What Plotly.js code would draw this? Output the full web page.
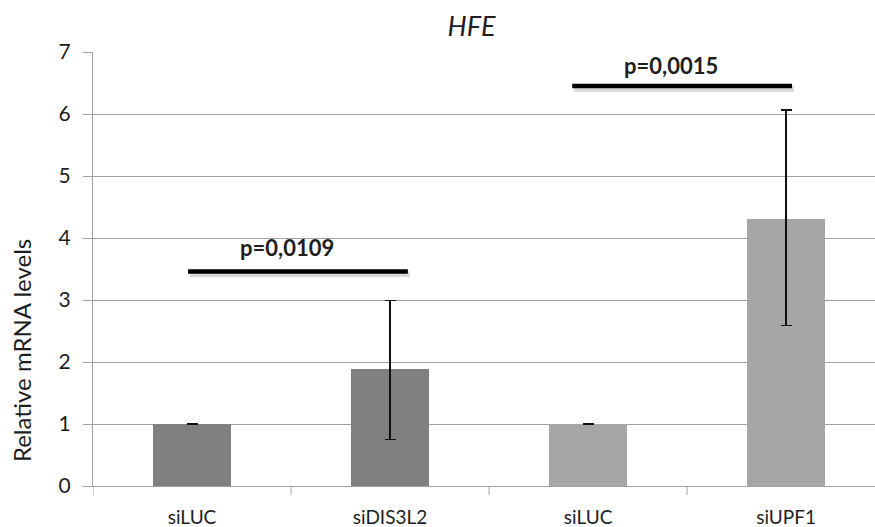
<!DOCTYPE html>
<html>
<head>
<meta charset="utf-8">
<script src="https://cdn.plot.ly/plotly-3.0.1.min.js"></script>
<style>html,body{margin:0;padding:0;background:#fff;}#chart{width:875px;height:527px;}</style>
</head>
<body>
<div id="chart"></div>
<script>
// ---- data ----
var categories = ["siLUC", "siDIS3L2", "siLUC", "siUPF1"];
var values = [1.0, 1.88, 1.0, 4.31];
var errUp = [0.005, 1.11, 0.005, 1.755];
var errDown = [0.005, 1.13, 0.005, 1.725];
var barColors = ["#808080", "#808080", "#A6A6A6", "#A6A6A6"];
var yTicks = [0, 1, 2, 3, 4, 5, 6, 7];
var sigLabels = ["p=0,0109", "p=0,0015"];
var sigStart = [-0.02, 1.92];
var sigEnd = [1.09, 3.03];
var sigY = [3.46, 6.45];
var sigLabelX = [0.48, 2.42];
var sigLabelY = [3.84, 6.79];

var xIdx = categories.map(function(_, i){ return i; });
var gridCol = "#a2a2a2";
var txtCol = "#1e1e1e";
var fontFam = "Lato, 'Open Sans', sans-serif";

var trace = {
  type: "bar",
  x: xIdx,
  y: values,
  width: 0.395,
  marker: {color: barColors, line: {width: 0}},
  error_y: {type: "data", symmetric: false, array: errUp, arrayminus: errDown,
            color: "#111", thickness: 1.5, width: 5.5},
  hoverinfo: "skip"
};

var shapes = [];
// boundary tick marks on x axis
for (var i = 0; i < categories.length; i++) {
  shapes.push({type: "line", xref: "x", yref: "paper", ysizemode: "pixel", yanchor: 0,
    x0: i - 0.5, x1: i - 0.5, y0: 0, y1: -9, line: {color: gridCol, width: 1}});
}
var annotations = [];
for (var k = 0; k < sigLabels.length; k++) {
  // soft shadow
  shapes.push({type: "line", xref: "x", yref: "y", x0: sigStart[k] + 0.01, x1: sigEnd[k] + 0.01,
    y0: sigY[k] - 0.045, y1: sigY[k] - 0.045, line: {color: "rgba(0,0,0,0.15)", width: 6}});
  shapes.push({type: "line", xref: "x", yref: "y", x0: sigStart[k], x1: sigEnd[k],
    y0: sigY[k], y1: sigY[k], line: {color: "#000", width: 4.5}});
  annotations.push({x: sigLabelX[k], y: sigLabelY[k], xref: "x", yref: "y", text: "<b>" + sigLabels[k] + "</b>",
    showarrow: false, font: {family: fontFam, size: 22, color: txtCol}, xanchor: "center", yanchor: "middle"});
}
annotations.push({x: -0.092, y: 0.311, xref: "paper", yref: "paper", text: "Relative mRNA levels",
  textangle: -90, showarrow: false, font: {family: fontFam, size: 24, color: txtCol},
  xanchor: "center", yanchor: "middle"});

var layout = {
  width: 875, height: 527,
  margin: {l: 93, r: 0, t: 52, b: 41, pad: 0},
  paper_bgcolor: "#fff", plot_bgcolor: "#fff",
  showlegend: false,
  title: {text: "<i>HFE</i>", x: 0.539, xref: "container", xanchor: "center",
          y: 0.949, yref: "container", yanchor: "middle",
          font: {family: fontFam, size: 27, color: txtCol}},
  xaxis: {range: [-0.5, 3.449], tickvals: xIdx, ticktext: categories, ticks: "",
          showgrid: false, zeroline: false, showline: true, linecolor: gridCol, linewidth: 1,
          ticklabelstandoff: 14, tickfont: {family: fontFam, size: 19, color: txtCol}, fixedrange: true},
  yaxis: {range: [0, 7], tickvals: yTicks, ticks: "outside", ticklen: 9, tickcolor: gridCol,
          showgrid: true, gridcolor: gridCol, gridwidth: 1, zeroline: false,
          showline: true, linecolor: gridCol, linewidth: 1, ticklabelstandoff: 8,
          tickfont: {family: fontFam, size: 21, color: txtCol}, fixedrange: true},
  shapes: shapes,
  annotations: annotations,
  bargap: 0
};

Plotly.newPlot("chart", [trace], layout, {displayModeBar: false, staticPlot: true});
</script>
</body>
</html>
